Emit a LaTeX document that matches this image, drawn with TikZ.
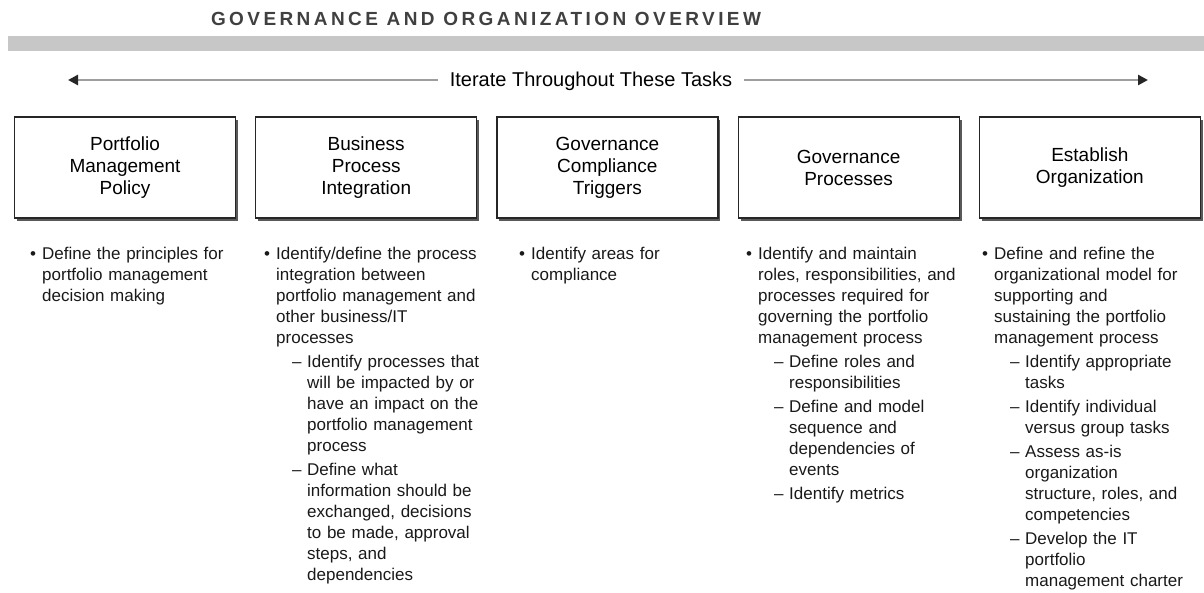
\documentclass[tikz,border=0pt]{standalone}
\usepackage{fontspec}
\setmainfont{Liberation Sans}
\newfontfamily\titlefont[LetterSpace=18]{Liberation Sans}
\usepackage{enumitem}
\usetikzlibrary{positioning,shadows,arrows.meta}

\setlist[itemize,1]{label=\textbullet, leftmargin=12pt, labelsep=6pt, labelwidth=6pt, align=left,
  topsep=0pt, partopsep=0pt, parsep=0pt, itemsep=3pt}
\setlist[itemize,2]{label=--, leftmargin=31pt, labelsep=5pt, labelwidth=10pt, align=left,
  topsep=3pt, partopsep=0pt, parsep=0pt, itemsep=3pt}

\tikzset{
  taskbox/.style={draw=black!85, line width=1.2pt, fill=white, minimum width=221pt,
    minimum height=101pt, align=center, font=\fontsize{19}{22}\selectfont,
    drop shadow={shadow xshift=2.5pt, shadow yshift=-2.5pt, fill=black!65, opacity=1}},
  notes/.style={anchor=north west, inner sep=0pt, text width=232pt, align=left,
    text=black!90, font=\fontsize{17}{21}\selectfont},
  flow/.style={line width=2.6pt, black!38, -{Triangle[length=10pt,width=10pt,color=black!85]}}
}

\begin{document}
\begin{tikzpicture}[x=1pt, y=-1pt]
  \useasboundingbox (0,0) rectangle (1204,592);

  % heading and bar
  \node[font=\titlefont\bfseries\fontsize{19}{22}\selectfont, text=black!75] (title) at (486,19)
    {GOVERNANCE AND ORGANIZATION OVERVIEW};
  \fill[black!22] (8,36) rectangle (1204,51);

  % iterate arrow
  \node[font=\fontsize{20}{24}\selectfont, inner xsep=12pt] (iterate) at (591,81)
    {Iterate Throughout These Tasks};
  \coordinate (leftend) at (68,80);
  \coordinate (rightend) at (1148,80);
  \draw[flow] (iterate.west |- leftend) -- (leftend);
  \draw[flow] (iterate.east |- rightend) -- (rightend);

  % task boxes
  \node[taskbox] (policy) at (125,167.5) {Portfolio\\Management\\Policy};
  \node[taskbox, right=19pt of policy] (integration) {Business\\Process\\Integration};
  \node[taskbox, right=19pt of integration] (triggers) {Governance\\Compliance\\Triggers};
  \node[taskbox, right=19pt of triggers] (processes) {Governance\\Processes};
  \node[taskbox, right=19pt of processes] (organization) {Establish\\Organization};

  % task notes
  \node[notes] (policynotes) at (30,238.5) {%
    \begin{itemize}
      \item Define the principles for\newline portfolio management\newline decision making
    \end{itemize}};

  \node[notes] (integrationnotes) at (264,238.5) {%
    \begin{itemize}
      \item Identify/define the process\newline integration between\newline
        portfolio management and\newline other business/IT\newline processes
      \begin{itemize}
        \item Identify processes that\newline will be impacted by or\newline
          have an impact on the\newline portfolio management\newline process
        \item Define what\newline information should be\newline exchanged, decisions\newline
          to be made, approval\newline steps, and\newline dependencies
      \end{itemize}
    \end{itemize}};

  \node[notes] (triggersnotes) at (519,238.5) {%
    \begin{itemize}
      \item Identify areas for\newline compliance
    \end{itemize}};

  \node[notes] (processesnotes) at (746,238.5) {%
    \begin{itemize}
      \item Identify and maintain\newline roles, responsibilities, and\newline
        processes required for\newline governing the portfolio\newline management process
      \begin{itemize}
        \item Define roles and\newline responsibilities
        \item Define and model\newline sequence and\newline dependencies of\newline events
        \item Identify metrics
      \end{itemize}
    \end{itemize}};

  \node[notes] (organizationnotes) at (982,238.5) {%
    \begin{itemize}
      \item Define and refine the\newline organizational model for\newline
        supporting and\newline sustaining the portfolio\newline management process
      \begin{itemize}
        \item Identify appropriate\newline tasks
        \item Identify individual\newline versus group tasks
        \item Assess as-is\newline organization\newline structure, roles, and\newline competencies
        \item Develop the IT\newline portfolio\newline management charter
      \end{itemize}
    \end{itemize}};
\end{tikzpicture}
\end{document}
